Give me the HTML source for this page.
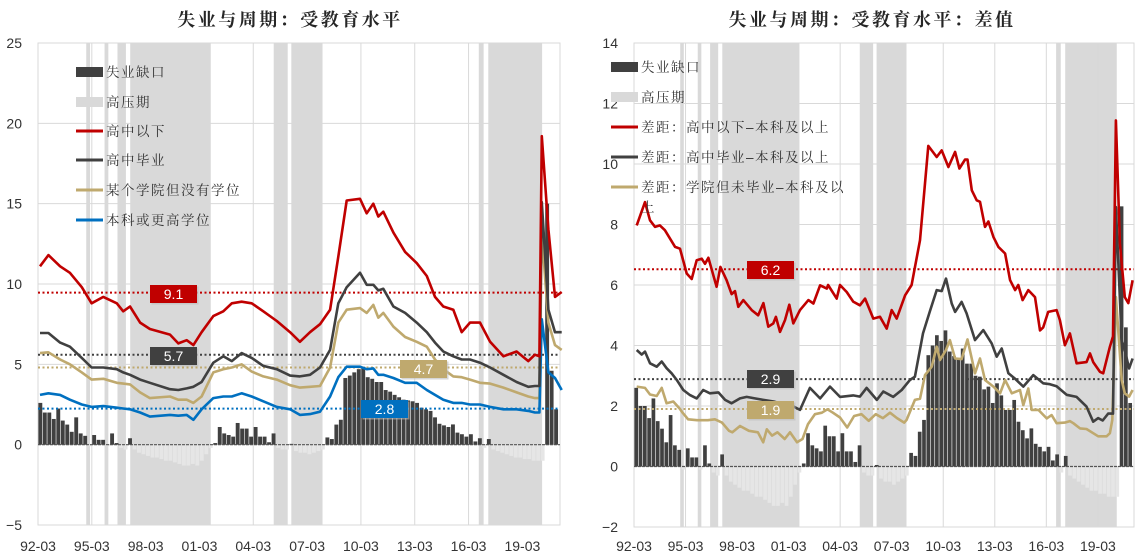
<!DOCTYPE html>
<html><head><meta charset="utf-8">
<style>
html,body{margin:0;padding:0;background:#fff;}
svg{display:block;font-family:"Liberation Sans","Noto Sans CJK SC",sans-serif;}
.ttl{font-family:"Liberation Serif","Noto Serif CJK SC",serif;font-weight:bold;font-size:18px;fill:#262626;letter-spacing:2.5px;}
.tick{font-size:14px;fill:#333;}
.leg{font-family:"Liberation Sans","Noto Serif CJK SC",serif;font-size:13.5px;fill:#333;letter-spacing:1.5px;}
.lab{font-size:14px;fill:#fff;}
</style></head>
<body>
<svg id="chart" width="1142" height="555" viewBox="0 0 1142 555" xmlns="http://www.w3.org/2000/svg">
<text class="ttl" x="290" y="26" text-anchor="middle">失业与周期：受教育水平</text>
<text class="ttl" x="872" y="26" text-anchor="middle">失业与周期：受教育水平：差值</text>
<g id="L"></g>
<g id="R"></g>
</svg>
<script>
// ---- shared data ----
const shadeStart = [1994.86, 1995.88, 1996.60, 1997.31, 2005.31, 2006.29, 2016.74, 2017.27];
const shadeEnd   = [1995.07, 1996.09, 1997.07, 2001.80, 2006.09, 2008.03, 2017.01, 2020.27];
const xTickLabels = ['92-03','95-03','98-03','01-03','04-03','07-03','10-03','13-03','16-03','19-03'];
const xTickYears = [1992.17,1995.17,1998.17,2001.17,2004.17,2007.17,2010.17,2013.17,2016.17,2019.17];
const barStartYear = 1992.3;
// ---- left chart data ----
const leftYTicks = [25,20,15,10,5,0,-5];
const leftDates = [1992.28,1992.75,1993.40,1993.95,1994.61,1995.16,1995.81,1996.56,1996.92,1997.30,1997.86,1998.41,1999.53,1999.99,2000.46,2000.83,2001.29,2001.94,2002.50,2002.97,2003.52,2004.08,2004.73,2005.48,2006.22,2006.77,2007.33,2007.89,2008.45,2008.91,2009.38,2010.12,2010.49,2010.86,2011.14,2011.42,2011.98,2012.63,2013.28,2013.84,2014.30,2014.76,2015.32,2015.79,2016.25,2016.81,2017.37,2018.11,2018.85,2019.50,2019.87,2020.12,2020.25,2020.62,2020.99,2021.36];
const leftBelowHS = [11.1,11.8,11.1,10.7,9.8,8.8,9.2,8.8,8.3,8.6,7.6,7.2,6.85,6.3,6.5,6.2,7.0,8.0,8.3,8.8,8.9,8.8,8.3,7.7,7.0,6.4,7.0,7.5,8.4,11.7,15.2,15.3,14.4,15.0,14.2,14.5,13.2,12.0,11.3,10.5,9.2,8.6,8.4,7.0,7.6,7.6,6.4,5.5,5.8,5.2,5.6,5.5,19.2,13.4,9.2,9.5];
const leftHSGrad = [6.95,6.95,6.35,6.1,5.4,4.8,4.8,4.7,4.5,4.35,4.05,3.85,3.45,3.4,3.5,3.6,3.9,5.1,5.5,5.2,5.7,5.4,4.9,4.7,4.3,4.25,4.35,4.8,5.9,8.8,9.8,10.7,9.95,9.95,9.6,9.7,8.6,8.2,7.6,7.0,6.35,5.8,5.5,5.3,5.3,5.1,4.8,4.35,3.9,3.6,3.65,3.65,15.1,8.4,7.0,7.0];
const leftSomeCollege = [5.7,5.75,5.3,5.0,4.5,4.05,4.1,3.85,3.8,3.75,3.25,2.9,3.0,2.8,2.8,2.6,3.0,4.5,4.7,4.8,5.0,4.55,4.25,4.05,3.7,3.55,3.6,3.65,4.8,7.6,8.4,8.5,8.2,8.7,7.9,8.2,7.35,6.7,6.4,6.1,5.3,4.7,4.25,4.2,4.05,3.85,3.8,3.55,3.25,3.0,2.9,2.9,13.2,7.6,6.2,5.9];
const leftBachelor = [3.1,3.2,3.1,2.8,2.5,2.35,2.4,2.3,2.25,2.2,2.0,1.75,1.85,1.8,1.85,1.55,2.2,2.9,3.0,3.0,3.2,3.0,2.7,2.35,2.2,1.85,1.9,2.05,3.0,4.2,4.85,4.85,4.7,4.75,4.35,4.35,4.15,3.85,3.85,3.4,3.1,2.8,2.6,2.6,2.5,2.5,2.35,2.2,2.2,2.1,2.0,2.0,7.8,4.5,4.15,3.4];
const leftGap = [2.6,2.0,2.0,1.6, 2.25,1.5,1.25,0.8, 1.7,0.7,0.55,-0.1, 0.6,0.3,0.3,-0.1, 0.7,0.1,-0.2,-0.3, 0.4,-0.3,-0.5,-0.6, -0.7,-0.8,-0.8,-0.9, -1.0,-1.0,-1.1,-1.2, -1.3,-1.3,-1.2,-1.3, -1.0,-0.6,-0.2,0.1, 1.1,0.7,0.6,0.5, 1.35,1.0,1.0,0.5, 1.1,0.5,0.5,0.15, 0.7,-0.2,-0.3,-0.3, 0.05,-0.4,-0.5,-0.5, -0.6,-0.5,-0.4,-0.3, 0.45,0.35,1.25,1.55, 4.15,4.3,4.5,4.7, 4.85,4.2,4.1,3.9, 3.9,3.4,3.3,3.1, 2.95,2.8,2.75,2.7, 2.6,2.3,2.2,2.1, 1.7,1.3,1.2,1.1, 1.26,0.75,0.65,0.5, 0.65,0.2,0.4,-0.2, 0.35,-0.3,-0.4,-0.5, -0.6,-0.7,-0.8,-0.8, -0.9,-0.9,-1.0,-1.0, -1.0,15.0,4.6,2.2, 2.2,1.35];
const leftRefVals = [9.46, 5.6, 4.8, 2.24];
const leftRefLabels = ['9.1','5.7','4.7','2.8'];
// ---- right chart data ----
const rightYTicks = [14,12,10,8,6,4,2,0,-2];
const rRedDates = [1992.33,1992.81,1993.10,1993.39,1993.68,1993.97,1994.56,1994.85,1995.24,1995.53,1995.82,1996.11,1996.30,1996.50,1996.98,1997.20,1997.56,1997.85,1998.05,1998.24,1998.53,1999.02,1999.40,1999.70,1999.99,2000.28,2000.43,2000.67,2000.96,2001.21,2001.44,2001.83,2002.32,2002.61,2003.00,2003.39,2003.47,2003.97,2004.16,2004.55,2004.93,2005.32,2005.62,2006.10,2006.49,2006.88,2007.17,2007.46,2007.95,2008.33,2008.82,2009.30,2009.79,2010.08,2010.47,2010.86,2011.11,2011.44,2011.58,2011.83,2012.12,2012.31,2012.60,2012.80,2013.09,2013.38,2013.77,2014.06,2014.35,2014.54,2014.79,2015.12,2015.51,2015.80,2015.99,2016.28,2016.77,2016.96,2017.25,2017.54,2017.93,2018.51,2018.71,2018.90,2019.29,2019.48,2019.87,2020.05,2020.22,2020.45,2020.74,2020.94,2021.19];
const rRedVals = [7.97,8.74,8.14,7.92,7.97,7.81,7.26,7.2,6.38,6.2,6.82,6.87,6.7,6.9,5.94,6.6,6.16,5.7,5.8,5.28,5.5,5.17,5.0,5.4,4.62,4.73,4.95,4.45,4.84,5.35,4.73,5.17,5.5,5.39,5.99,5.88,6.0,5.55,6.0,5.77,5.45,5.33,5.55,4.89,4.95,4.56,5.17,4.89,5.66,6.0,7.48,10.6,10.23,10.45,9.9,10.4,9.85,10.15,10.15,9.13,8.8,8.75,7.92,8.1,7.59,7.26,7.04,6.16,5.83,6.0,5.5,5.83,5.6,4.5,4.6,5.11,5.17,4.84,4.01,4.4,3.41,3.45,3.74,3.45,3.13,3.08,3.96,4.3,11.44,7.37,5.6,5.4,6.16];
const rGrayDates = [1992.33,1992.62,1992.81,1993.10,1993.49,1993.78,1994.07,1994.36,1994.66,1995.04,1995.43,1995.82,1996.20,1996.59,1997.08,1997.47,1997.85,1998.34,1998.73,1999.20,1999.70,2000.30,2000.90,2001.40,2001.83,2002.41,2003.00,2003.58,2004.16,2004.93,2005.32,2005.71,2006.30,2006.68,2007.26,2007.75,2008.23,2008.52,2008.99,2009.38,2009.79,2010.08,2010.33,2010.66,2010.86,2011.24,2011.53,2012.02,2012.50,2012.99,2013.28,2013.57,2013.96,2014.35,2014.83,2015.41,2015.99,2016.38,2016.77,2017.35,2017.93,2018.51,2018.90,2019.19,2019.45,2019.77,2020.05,2020.22,2020.56,2020.74,2020.99,2021.19];
const rGrayVals = [3.85,3.7,3.8,3.41,3.3,3.47,3.25,3.08,2.86,2.53,2.36,2.25,2.53,2.42,2.45,2.2,2.09,2.25,2.3,2.25,2.2,2.15,2.05,2.0,1.87,2.6,2.25,2.64,2.3,2.35,2.31,2.6,2.2,2.48,2.3,2.53,2.86,2.97,4.4,5.11,5.83,5.8,6.21,5.39,5.11,5.44,5.06,4.18,4.51,4.07,3.63,3.9,3.08,2.9,2.64,3.02,2.75,2.72,2.65,2.37,2.3,1.98,1.48,1.6,1.52,1.75,1.75,8.58,4.18,3.85,3.24,3.57];
const rTanDates = [1992.33,1992.81,1993.10,1993.49,1993.78,1994.07,1994.46,1994.85,1995.00,1995.32,1995.84,1996.47,1996.88,1997.29,1997.70,1997.90,1998.34,1998.86,1999.38,1999.69,1999.90,2000.20,2000.52,2000.94,2001.25,2001.66,2001.98,2002.30,2002.70,2003.11,2003.43,2003.75,2004.16,2004.58,2004.98,2005.41,2005.83,2006.24,2006.66,2007.07,2007.48,2007.90,2008.04,2008.52,2008.82,2009.11,2009.50,2009.79,2009.98,2010.33,2010.56,2010.86,2011.24,2011.58,2012.02,2012.31,2012.60,2013.09,2013.48,2013.77,2014.16,2014.64,2014.83,2015.12,2015.32,2015.71,2016.19,2016.48,2016.77,2017.25,2017.54,2017.74,2018.13,2018.51,2018.90,2019.19,2019.68,2019.87,2020.01,2020.22,2020.56,2020.74,2020.99,2021.19];
const rTanVals = [2.64,2.6,2.38,2.33,2.6,2.09,2.15,1.9,1.78,1.56,1.53,1.53,1.56,1.45,1.18,1.13,1.34,1.18,1.13,0.8,1.23,1.02,1.13,0.91,1.13,0.8,0.91,1.4,1.73,1.78,1.89,1.78,1.62,1.29,1.67,1.73,1.51,1.73,1.6,1.78,1.6,1.45,1.54,2.2,2.24,3.02,3.3,3.96,3.52,3.85,4.18,3.57,3.55,4.2,3.08,3.57,2.86,2.64,2.42,2.86,2.42,2.53,2.03,2.58,1.87,1.87,1.59,1.7,1.43,1.45,1.5,1.43,1.26,1.24,1.1,1.0,1.0,1.1,1.54,5.6,2.86,2.42,2.31,2.53];
const rightGap = [2.6,2.0,2.0,1.6, 2.25,1.5,1.25,0.8, 1.7,0.7,0.55,-0.1, 0.6,0.3,0.3,-0.1, 0.7,0.1,-0.2,-0.3, 0.4,-0.3,-0.5,-0.6, -0.7,-0.8,-0.8,-0.9, -1.0,-1.0,-1.1,-1.2, -1.3,-1.3,-1.2,-1.3, -1.0,-0.6,-0.2,0.1, 1.1,0.7,0.6,0.5, 1.35,1.0,1.0,0.5, 1.1,0.5,0.5,0.15, 0.7,-0.2,-0.3,-0.3, 0.05,-0.4,-0.5,-0.5, -0.6,-0.5,-0.4,-0.3, 0.45,0.35,1.15,1.54, 3.68,4.0,4.34,4.15, 4.5,3.8,3.65,3.55, 3.9,3.4,3.4,3.0, 2.97,2.55,2.64,2.1, 2.75,2.35,1.87,1.87, 2.2,1.48,1.2,0.93, 1.26,0.75,0.65,0.5, 0.65,0.2,0.4,-0.2, 0.35,-0.3,-0.4,-0.5, -0.6,-0.7,-0.8,-0.8, -0.9,-0.9,-1.0,-1.0, -1.0,8.6,4.6,2.1, 2.15,1.4];
const rightRefVals = [6.52, 2.89, 1.9];
const rightRefLabels = ['6.2','2.9','1.9'];

const NS = 'http://www.w3.org/2000/svg';
function mk(parent, tag, attrs, text) {
  const e = document.createElementNS(NS, tag);
  for (const k in attrs) e.setAttribute(k, attrs[k]);
  if (text !== undefined) e.textContent = text;
  parent.appendChild(e);
  return e;
}
function drawChart(g, cfg) {
  const X = y => cfg.x0 + (y - 1992.17) * cfg.pxYear;
  const Y = v => cfg.y0 - (v - cfg.vmin) * (cfg.y0 - cfg.y1) / (cfg.vmax - cfg.vmin);
  const left = cfg.x0, right = cfg.x1, top = cfg.y1, bot = cfg.y0;
  // shading
  for (let i = 0; i < shadeStart.length; i++) {
    const r = mk(g, 'rect', {x: X(shadeStart[i]), y: top, width: X(shadeEnd[i]) - X(shadeStart[i]), height: bot - top, fill: '#d9d9d9'});
    
    
  }
  // gridlines
  cfg.yTicks.forEach(v => {
    const l = mk(g, 'line', {x1: left, x2: right, y1: Y(v), y2: Y(v), stroke: '#d9d9d9', 'stroke-width': 1});
    
    
    const t = mk(g, 'text', {x: cfg.labelX, y: Y(v) + 5, 'text-anchor': 'end', class: 'tick'}, v < 0 ? '−' + (-v) : String(v));
    
    
  });
  xTickYears.forEach((yr, i) => {
    const l = mk(g, 'line', {x1: X(yr), x2: X(yr), y1: top, y2: bot, stroke: '#d9d9d9', 'stroke-width': 1});
    
    
    const t = mk(g, 'text', {x: X(yr), y: 551, 'text-anchor': 'middle', class: 'tick'}, xTickLabels[i]);
    
    
  });
  const fr = mk(g, 'rect', {x: left, y: top, width: right - left, height: bot - top, fill: 'none', stroke: '#d9d9d9'});
  
  
  // bars
  const bw = cfg.pxYear * 0.25 - 0.6;
  cfg.gap.forEach((v, i) => {
    const cx = X(barStartYear + i * 0.25);
    if (cx > right) return;
    const y0 = Y(0), yv = Y(v);
    const b = mk(g, 'rect', {x: cx - bw / 2, y: Math.min(y0, yv), width: bw, height: Math.abs(yv - y0), fill: v >= 0 ? '#404040' : '#e6e6e6'});
    
    
  });
  const z = mk(g, 'line', {x1: left, x2: right, y1: Y(0), y2: Y(0), stroke: '#555', 'stroke-width': 1.2, 'stroke-dasharray': '3,1'});
  
  
  // reference lines
  cfg.refs.forEach((r, i) => {
    const l = mk(g, 'line', {x1: left, x2: right, y1: Y(cfg.refVals[i]), y2: Y(cfg.refVals[i]), stroke: r.color, 'stroke-width': 2, 'stroke-dasharray': '2,2.5'});
    
    
  });
  // series
  cfg.series.forEach(s => {
    const d = s.dates.map((yr, i) => (i ? 'L' : 'M') + X(yr).toFixed(1) + ',' + Y(s.vals[i]).toFixed(1)).join(' ');
    const p = mk(g, 'path', {d: d, fill: 'none', stroke: s.color, 'stroke-width': 2.6, 'stroke-linejoin': 'round'});
    
    
  });
  // value labels
  cfg.refs.forEach((r, i) => {
    const lg = mk(g, 'g', {});
    
    
    mk(lg, 'rect', {x: r.x + 1.5, y: r.y + 1.5, width: 47, height: 18, fill: '#bbb', opacity: 0.6});
    mk(lg, 'rect', {x: r.x, y: r.y, width: 47, height: 18, fill: r.color});
    mk(lg, 'text', {x: r.x + 23.5, y: r.y + 14, 'text-anchor': 'middle', class: 'lab'}, cfg.refLabels[i]);
  });
  // legend
  cfg.legend.forEach(it => {
    const lg = mk(g, 'g', {});
    
    
    if (it.type === 'box') mk(lg, 'rect', {x: cfg.legX, y: it.y - 5, width: 27, height: 10, fill: it.color});
    else mk(lg, 'line', {x1: cfg.legX, x2: cfg.legX + 27, y1: it.y, y2: it.y, stroke: it.color, 'stroke-width': 3});
    const t = mk(lg, 'text', {x: cfg.legX + 30, y: it.y + 5, class: 'leg'}, it.text);
    if (it.wrap) mk(lg, 'text', {x: cfg.legX + 30, y: it.y + 25, class: 'leg'}, it.wrap);
  });
}
const DK = '#404040', RED = '#c00000', TAN = '#bfa96e', BLUE = '#0070c0';
drawChart(document.getElementById('L'), {
  x0: 38, x1: 560, y0: 525, y1: 43, vmin: -5, vmax: 25, pxYear: 17.94, labelX: 22,
  yTicks: leftYTicks, gap: leftGap, refVals: leftRefVals, refLabels: leftRefLabels,
  refs: [{color: RED, x: 150, y: 285}, {color: DK, x: 150, y: 347}, {color: TAN, x: 400, y: 360}, {color: BLUE, x: 361, y: 400}],
  series: [
    {name: 'series-some-college', dates: leftDates, vals: leftSomeCollege, color: TAN},
    {name: 'series-bachelor-or-higher', dates: leftDates, vals: leftBachelor, color: BLUE},
    {name: 'series-high-school-grad', dates: leftDates, vals: leftHSGrad, color: DK},
    {name: 'series-below-high-school', dates: leftDates, vals: leftBelowHS, color: RED}
  ],
  legX: 76,
  legend: [
    {type: 'box', color: '#404040', text: '失业缺口', y: 72},
    {type: 'box', color: '#d9d9d9', text: '高压期', y: 102},
    {type: 'line', color: RED, text: '高中以下', y: 131},
    {type: 'line', color: DK, text: '高中毕业', y: 160},
    {type: 'line', color: TAN, text: '某个学院但没有学位', y: 190},
    {type: 'line', color: BLUE, text: '本科或更高学位', y: 220}
  ]
});
drawChart(document.getElementById('R'), {
  x0: 634, x1: 1134, y0: 527, y1: 43, vmin: -2, vmax: 14, pxYear: 17.18, labelX: 618,
  yTicks: rightYTicks, gap: rightGap, refVals: rightRefVals, refLabels: rightRefLabels,
  refs: [{color: RED, x: 747, y: 261}, {color: DK, x: 747, y: 370}, {color: TAN, x: 747, y: 401}],
  series: [
    {name: 'series-gap-college-no-degree', dates: rTanDates, vals: rTanVals, color: TAN},
    {name: 'series-gap-high-school-grad', dates: rGrayDates, vals: rGrayVals, color: DK},
    {name: 'series-gap-below-high-school', dates: rRedDates, vals: rRedVals, color: RED}
  ],
  legX: 611,
  legend: [
    {type: 'box', color: '#404040', text: '失业缺口', y: 67},
    {type: 'box', color: '#d9d9d9', text: '高压期', y: 97},
    {type: 'line', color: RED, text: '差距：高中以下–本科及以上', y: 127},
    {type: 'line', color: DK, text: '差距：高中毕业–本科及以上', y: 157},
    {type: 'line', color: TAN, text: '差距：学院但未毕业–本科及以', wrap: '上', y: 187}
  ]
});
</script>
</body></html>
